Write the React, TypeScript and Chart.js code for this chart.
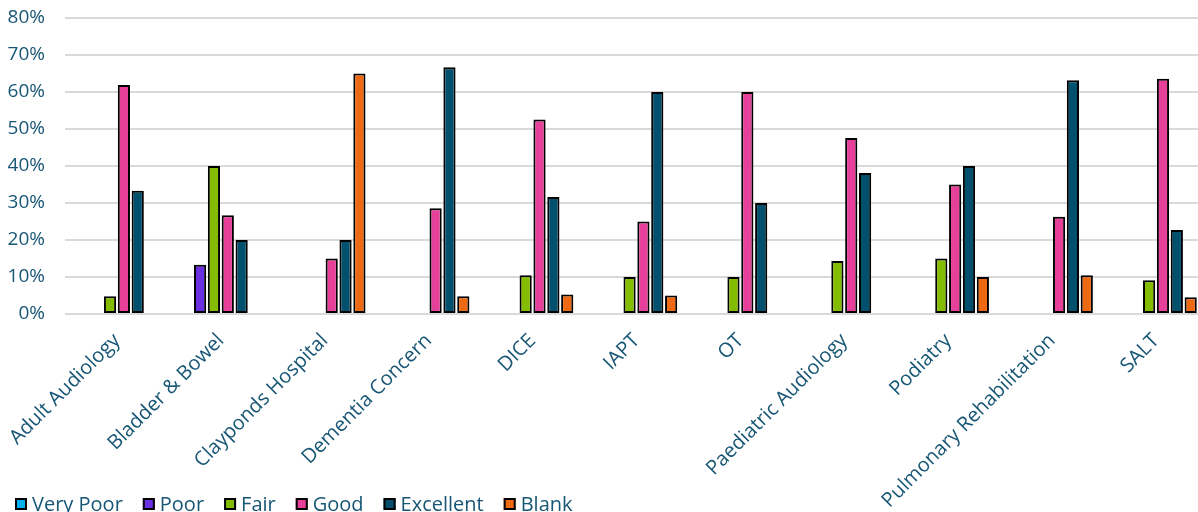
import { useEffect, useRef } from 'react';
import { Chart, registerables } from 'chart.js';

Chart.register(...registerables);

const categories = [
  'Adult Audiology',
  'Bladder & Bowel',
  'Clayponds Hospital',
  'Dementia Concern',
  'DICE',
  'IAPT',
  'OT',
  'Paediatric Audiology',
  'Podiatry',
  'Pulmonary Rehabilitation',
  'SALT',
];

// Share of responses per service, in percent (null = no responses).
const veryPoor = [null, null, null, null, null, null, null, null, null, null, null];
const poor = [null, 13.3, null, null, null, null, null, null, null, null, null];
const fair = [4.8, 40, null, null, 10.5, 10, 10, 14.3, 15, null, 9.1];
const good = [61.9, 26.7, 15, 28.6, 52.6, 25, 60, 47.6, 35, 26.3, 63.6];
const excellent = [33.3, 20, 20, 66.7, 31.6, 60, 30, 38.1, 40, 63.2, 22.7];
const blank = [null, null, 65, 4.8, 5.3, 5, null, null, 10, 10.5, 4.5];

const TEXT = '#175675';
const FONT = "'Open Sans', 'DejaVu Sans', sans-serif";

const series = [
  { label: 'Very Poor', data: veryPoor, color: '#00B0F0' },
  { label: 'Poor', data: poor, color: '#6A2FE0' },
  { label: 'Fair', data: fair, color: '#84BD00' },
  { label: 'Good', data: good, color: '#E6409A' },
  { label: 'Excellent', data: excellent, color: '#00506E' },
  { label: 'Blank', data: blank, color: '#EE6A12' },
];

// Legend row along the bottom-left edge: outlined square swatch, then the label.
const bottomLegend = {
  id: 'bottomLegend',
  afterDraw(chart: any) {
    const ctx = chart.ctx;
    ctx.save();
    ctx.font = `500 20px ${FONT}`;
    ctx.textBaseline = 'alphabetic';
    ctx.textAlign = 'left';
    let x = 15;
    const boxTop = 498;
    const box = 12;
    chart.data.datasets.forEach((ds: any) => {
      ctx.fillStyle = ds.backgroundColor;
      ctx.fillRect(x, boxTop, box, box);
      ctx.strokeStyle = '#000';
      ctx.lineWidth = 2;
      ctx.strokeRect(x + 1, boxTop + 1, box - 2, box - 2);
      ctx.fillStyle = TEXT;
      ctx.fillText(ds.label, x + 17, 511);
      x += 17 + ctx.measureText(ds.label).width + 20;
    });
    ctx.restore();
  },
};

export default function App() {
  const ref = useRef<HTMLCanvasElement | null>(null);

  useEffect(() => {
    document.body.style.margin = '0';
    const canvas = ref.current;
    if (!canvas) return;
    const chart = new Chart(canvas, {
      type: 'bar',
      data: {
        labels: categories,
        datasets: series.map((s) => ({
          label: s.label,
          data: s.data,
          backgroundColor: s.color,
          borderColor: '#000',
          borderWidth: 2,
          borderSkipped: false,
          categoryPercentage: 0.8,
          barPercentage: 0.88,
        })),
      },
      options: {
        responsive: false,
        animation: false,
        layout: { padding: { top: 18, right: 2, bottom: 0, left: 0 } },
        plugins: {
          legend: { display: false },
          tooltip: { enabled: false },
        },
        scales: {
          x: {
            grid: { display: false, drawTicks: false },
            border: { display: false },
            ticks: {
              autoSkip: false,
              maxRotation: 45,
              minRotation: 45,
              padding: 15,
              color: TEXT,
              font: { family: FONT, size: 20, weight: 500 },
            },
            afterFit(scale: any) {
              scale.height = 198;
              scale.paddingLeft = 0;
              scale.paddingRight = 0;
            },
          },
          y: {
            min: 0,
            max: 80,
            grid: { color: '#D9D9D9', lineWidth: 2, drawTicks: false },
            border: { display: false },
            ticks: {
              stepSize: 10,
              padding: 20,
              color: TEXT,
              font: { family: FONT, size: 19, weight: 500 },
              callback: (v: any) => `${v}%`,
            },
            afterFit(scale: any) {
              scale.width = 65;
              scale.paddingTop = 0;
              scale.paddingBottom = 0;
            },
          },
        },
      },
      plugins: [bottomLegend],
    });
    return () => chart.destroy();
  }, []);

  return (
    <div style={{ position: 'absolute', left: 0, top: 0, width: 1198, height: 512, overflow: 'hidden', background: '#fff' }}>
      <canvas ref={ref} width={1210} height={512} />
    </div>
  );
}
